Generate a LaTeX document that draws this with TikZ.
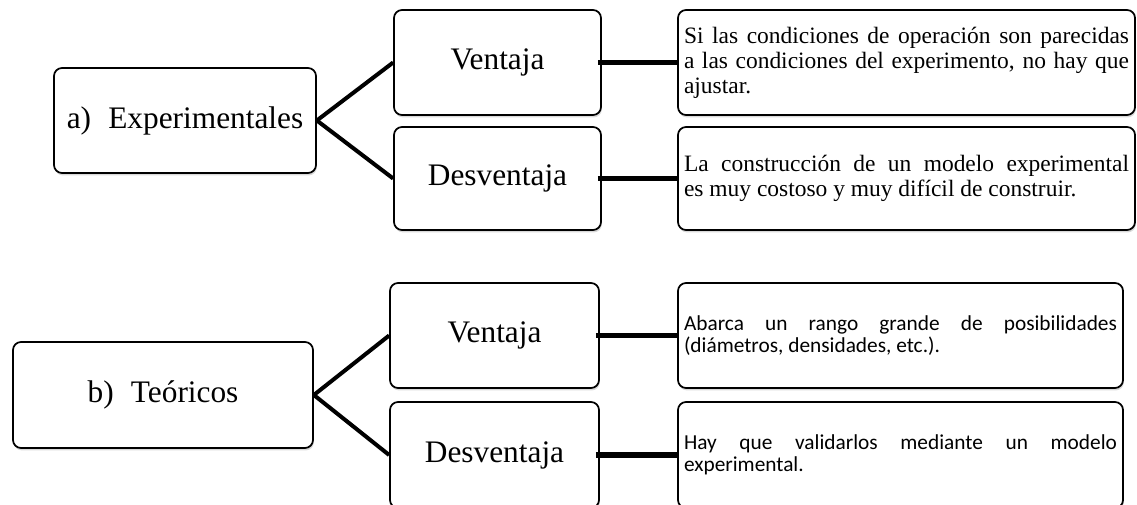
\documentclass[tikz,border=0pt]{standalone}
\usepackage{fontspec}
\setmainfont{Liberation Serif}
\newfontfamily\calibri{Carlito}
\usetikzlibrary{shadows}
\hyphenpenalty=10000
\tolerance=10000
\begin{document}
\begin{tikzpicture}[x = 0.75pt,y = -0.75pt]

    \tikzset{
      caja/.style={
        draw,
        line width = 1.3pt,
        rounded corners = 6pt,
        fill = white,
        drop shadow = {shadow xshift = 0.6pt,shadow yshift = -1.8pt,opacity = 0.3},
        inner sep = 0pt,
        font = \fontsize{23.5}{26}\selectfont,
      },
      texto/.style={
        caja,
        inner xsep = 4.5pt,
        align = justify,
        font = \fontsize{17.6}{18.8}\selectfont,
      },
      textob/.style={
        texto,
        font = \calibri\fontsize{16}{16.8}\selectfont,
      },
      rama/.style={
        color = {black},
        line width = 3pt,
      },
      barra/.style={
        color = {black},
        line width = 4.4pt,
      },
    }
    \path[use as bounding box] (0,0) rectangle (1137,505);
    \clip (0,0) rectangle (1137,505);

	\node[caja,minimum width = 196.5pt,minimum height = 78.75pt] (expA) at (185,120.5) {a)\hspace{0.55em}Experimentales};
	\node[caja,minimum width = 155.25pt,minimum height = 78.75pt] (venA) at (497.5,62.5) {Ventaja};
	\node[caja,minimum width = 155.25pt,minimum height = 77.25pt] (desA) at (497.5,178.5) {Desventaja};
	\node[texto,text width = 333.75pt,minimum height = 78.75pt] (txtA1) at (906.5,62.5) {Si las condiciones de operación son parecidas\linebreak a las condiciones del experimento, no hay que\linebreak ajustar.};
	\node[texto,text width = 333.75pt,minimum height = 77.25pt] (txtA2) at (906.5,178.5) {La construcción de un modelo experimental\linebreak es muy costoso y muy difícil de construir.};

	\node[caja,minimum width = 225pt,minimum height = 79.5pt] (teoB) at (163,395) {b)\hspace{0.55em}Teóricos};
	\node[caja,minimum width = 156.75pt,minimum height = 78.75pt] (venB) at (494.5,335.5) {Ventaja};
	\node[caja,minimum width = 156.75pt,minimum height = 79.5pt] (desB) at (494.5,455) {Desventaja};
	\node[textob,text width = 324.75pt,minimum height = 78.75pt] (txtB1) at (900.5,335.5) {Abarca un rango grande de posibilidades\linebreak (diámetros, densidades, etc.).};
	\node[textob,text width = 324.75pt,minimum height = 79.5pt] (txtB2) at (900.5,455) {Hay que validarlos mediante un modelo\linebreak experimental.};

	\draw[rama] (expA.east)--(venA.west);
	\draw[rama] (expA.east)--(desA.west);
	\draw[barra] ([xshift = -3pt]venA.east)--(txtA1.west);
	\draw[barra] ([xshift = -3pt]desA.east)--(txtA2.west);

	\draw[rama] (teoB.east)--(venB.west);
	\draw[rama] (teoB.east)--(desB.west);
	\draw[barra] ([xshift = -3pt]venB.east)--(txtB1.west);
	\draw[barra] ([xshift = -3pt]desB.east)--(txtB2.west);

\end{tikzpicture}
\end{document}
